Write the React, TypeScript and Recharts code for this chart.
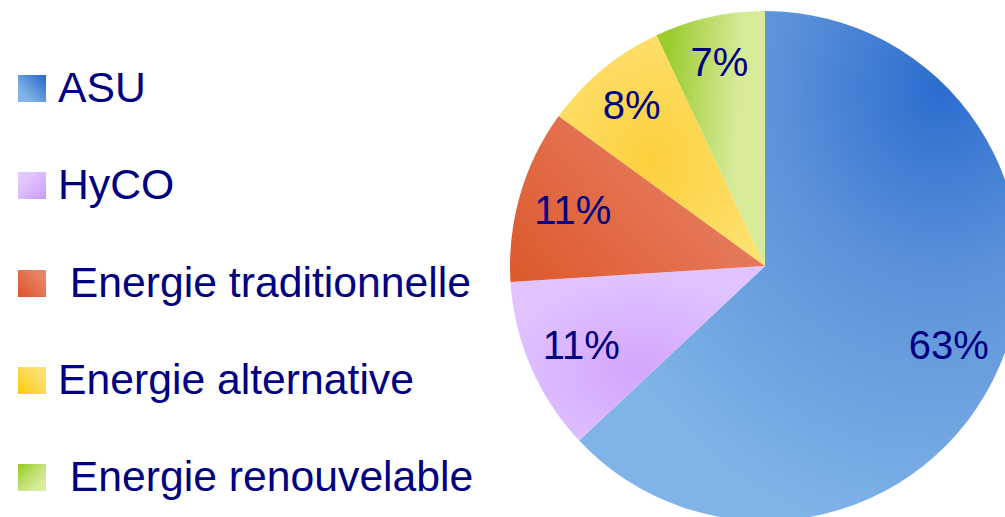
import { Cell, Pie, PieChart } from "recharts";

const categories = ["ASU", "HyCO", " Energie traditionnelle", "Energie alternative", " Energie renouvelable"];
const shares = [63, 11, 11, 8, 7];
const gradIds = ["gAsu", "gHyco", "gTrad", "gAlt", "gRen"];
const swatches = [
  "linear-gradient(225deg, #1f66cc 0%, #5e94da 45%, #80b4e8 75%)",
  "linear-gradient(315deg, #c999ff 0%, #d9b6ff 45%, #e2c8ff 80%)",
  "linear-gradient(45deg, #dc5228 0%, #e36e4a 45%, #e8846a 80%)",
  "linear-gradient(45deg, #fccb00 0%, #fdd84c 45%, #fee070 80%)",
  "linear-gradient(135deg, #94c81c 0%, #bfe070 45%, #d8eca0 80%)",
];

const data = categories.map((name, i) => ({ name, value: shares[i] }));

const FONT = "'Liberation Sans', Arial, sans-serif";
const NAVY = "#000080";
const RAD = Math.PI / 180;

function renderLabel(props: any) {
  const { cx, cy, midAngle, outerRadius, value, percent } = props;
  // thin slices sit their label a little further out, as in the source
  const r = outerRadius * (percent < 0.1 ? 0.82 : 0.785);
  const x = cx + r * Math.cos(-midAngle * RAD);
  const y = cy + r * Math.sin(-midAngle * RAD);
  return (
    <text x={x} y={y} fill={NAVY} fontSize={40} fontFamily={FONT} textAnchor="middle" dominantBaseline="central">
      {`${value}%`}
    </text>
  );
}

function LegendBox() {
  return (
    <svg width={480} height={517} style={{ display: "block", position: "absolute", left: 0, top: 0 }}>
      {categories.map((name, i) => {
        const top = 75 + i * 97.25;
        return (
          <g key={name}>
            <foreignObject x={18} y={top} width={28} height={27}>
              <div style={{ width: 28, height: 27, background: swatches[i] }} />
            </foreignObject>
            <text x={58} y={top + 27} fill={NAVY} fontSize={42.7} fontFamily={FONT} style={{ whiteSpace: "pre" }}>
              {name}
            </text>
          </g>
        );
      })}
    </svg>
  );
}

export default function App() {
  return (
    <div style={{ width: 1005, height: 517, background: "#fff", position: "relative", overflow: "hidden" }}>
      <style>{`body{margin:0}`}</style>
      <PieChart width={1005} height={517}>
        <defs>
          <radialGradient id="gAsu" cx="0.82" cy="0.15" r="0.9">
            <stop offset="0" stopColor="#2a6ccf" />
            <stop offset="0.4" stopColor="#5c91d9" />
            <stop offset="1" stopColor="#80b4e8" />
          </radialGradient>
          <radialGradient id="gHyco" cx="0.5" cy="0.6" r="0.55">
            <stop offset="0" stopColor="#d3a5fc" />
            <stop offset="1" stopColor="#e0c3ff" />
          </radialGradient>
          <linearGradient id="gTrad" x1="0" y1="0.9" x2="1" y2="0.3">
            <stop offset="0" stopColor="#dd5a2e" />
            <stop offset="1" stopColor="#e8846a" />
          </linearGradient>
          <radialGradient id="gAlt" cx="0.45" cy="0.55" r="0.6">
            <stop offset="0" stopColor="#fcd03c" />
            <stop offset="1" stopColor="#fee06e" />
          </radialGradient>
          <linearGradient id="gRen" x1="0.1" y1="0.2" x2="0.75" y2="0.3">
            <stop offset="0" stopColor="#9ccc30" />
            <stop offset="1" stopColor="#d6ea98" />
          </linearGradient>
        </defs>
        <Pie
          data={data}
          dataKey="value"
          nameKey="name"
          cx={760}
          cy={261}
          outerRadius={255}
          startAngle={90}
          endAngle={-270}
          stroke="none"
          label={renderLabel}
          labelLine={false}
          isAnimationActive={false}
        >
          {data.map((d, i) => (
            <Cell key={d.name} fill={`url(#${gradIds[i]})`} stroke="none" />
          ))}
        </Pie>
      </PieChart>
      <LegendBox />
    </div>
  );
}
